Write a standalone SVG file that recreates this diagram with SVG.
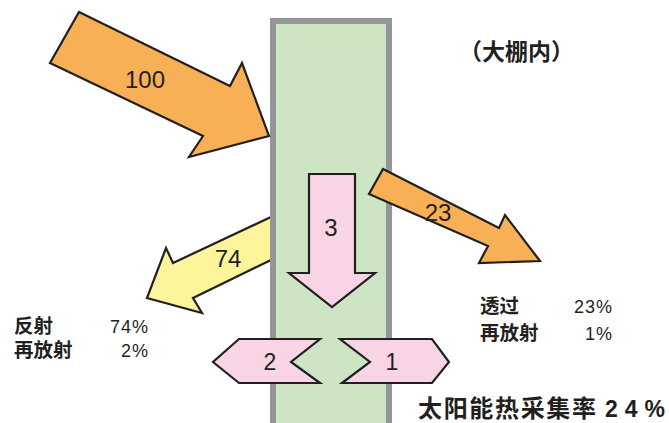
<svg xmlns="http://www.w3.org/2000/svg" width="669" height="423" viewBox="0 0 669 423">
<style>
.arr{stroke:#231f20;stroke-width:2.2;stroke-linejoin:miter}
.org{fill:#f8b057}
.yel{fill:#fdf59b}
.pnk{fill:#f9d4e4}
.num{font-family:"Liberation Sans",Arial,sans-serif;font-size:24px;fill:#231f20;text-anchor:middle}
.cjk{font-family:"Noto Sans CJK SC","Noto Sans",sans-serif;font-weight:bold;fill:#231f20}
.lbl{font-size:19.5px}
.pct{font-family:"Liberation Sans",Arial,sans-serif;font-size:18px;fill:#231f20;text-anchor:end;letter-spacing:1px}
</style>
<rect width="669" height="423" fill="#ffffff"/>
<g id="connectors">
<g id="arrow-74">
<polygon class="arr yel" points="273,216 173,263 166,248 147,298 202,313 193,298 273,259"/>
<text class="num" x="228" y="267">74</text>
</g>
</g>
<g id="greenhouse">
<rect x="273" y="21" width="116" height="420" fill="#cde5c5" stroke="#939598" stroke-width="6"/>
</g>
<g id="arrows">
<g id="arrow-100">
<polygon class="arr org" points="79,12 230,86 242,63 269,136 189,157 203,136 50,63"/>
<text class="num" x="145" y="88">100</text>
</g>
<g id="arrow-23">
<polygon class="arr org" points="383,169 499,228 505,215 540,261 479,263 488,246 369,194"/>
<text class="num" x="438" y="221">23</text>
</g>
<g id="arrow-3">
<polygon class="arr pnk" points="309,174 355,174 355,273 375,273 332,307 289,273 309,273"/>
<text class="num" x="331" y="236">3</text>
</g>
<g id="arrow-2">
<polygon class="arr pnk" points="320,339 239,339 213,362 239,383 320,383 291,362"/>
<text class="num" x="270" y="370" style="font-size:23px">2</text>
</g>
<g id="arrow-1">
<polygon class="arr pnk" points="340,339 432,339 449,362 432,383 342,383 370,362"/>
<text class="num" x="392" y="370" style="font-size:23px">1</text>
</g>
</g>
<g id="labels">
<text class="cjk" x="459" y="60" style="font-size:23px">（大棚内）</text>
<text class="cjk lbl" x="14" y="333">反射</text>
<text class="pct" x="149" y="333">74%</text>
<text class="cjk lbl" x="14" y="357">再放射</text>
<text class="pct" x="149" y="357">2%</text>
<text class="cjk lbl" x="480" y="313">透过</text>
<text class="pct" x="613" y="313">23%</text>
<text class="cjk lbl" x="480" y="340">再放射</text>
<text class="pct" x="613" y="340">1%</text>
<text class="cjk" x="418" y="417" style="font-size:24px" textLength="178" lengthAdjust="spacing">太阳能热采集率</text>
<text class="cjk" x="605" y="417" style="font-size:23px;font-family:'Liberation Sans',Arial,sans-serif" textLength="60" lengthAdjust="spacing">24%</text>
</g>
</svg>
